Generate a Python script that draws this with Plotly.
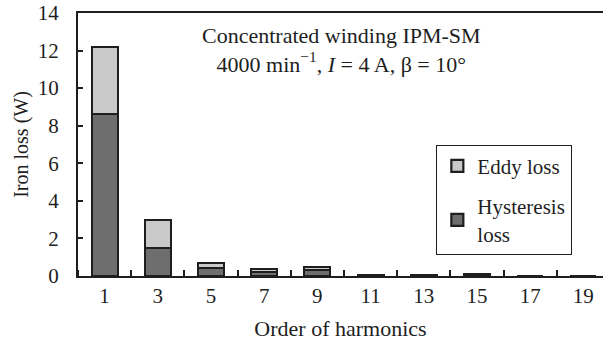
import plotly.graph_objects as go

# Harmonic order and iron-loss components (W)
orders = [1, 3, 5, 7, 9, 11, 13, 15, 17, 19]
hysteresis_loss = [8.6, 1.5, 0.42, 0.2, 0.3, 0.05, 0.05, 0.06, 0.0, 0.0]
eddy_loss = [3.6, 1.5, 0.26, 0.16, 0.2, 0.03, 0.03, 0.04, 0.0, 0.0]
y_ticks = [0, 2, 4, 6, 8, 10, 12, 14]

FONT = "Liberation Serif"
INK = "#1e1e1e"

fig = go.Figure()
fig.add_trace(go.Bar(
    x=orders, y=hysteresis_loss, name="Hysteresis<br>loss",
    legendgroup="h", legendrank=2,
    width=0.98, marker=dict(color="#6e6e6e", line=dict(color=INK, width=2.2)),
))
fig.add_trace(go.Bar(
    x=orders, y=eddy_loss, name="Eddy loss",
    legendgroup="e", legendrank=1,
    width=0.98, marker=dict(color="#c9c9c9", line=dict(color=INK, width=2.2)),
))

fig.add_annotation(
    x=9.92, y=13.55, xref="x", yref="y", showarrow=False,
    text="Concentrated winding IPM-SM<br>4000 min<sup>−1</sup>, <i>I</i> = 4 A, β = 10°",
    font=dict(family=FONT, size=22, color=INK), align="center", yanchor="top",
)

fig.update_layout(
    width=603, height=341,
    margin=dict(l=78, r=0, t=13, b=65),
    paper_bgcolor="white", plot_bgcolor="white",
    barmode="stack", bargap=0,
    font=dict(family=FONT, size=21, color=INK),
    showlegend=True,
    legend=dict(
        x=0.682, y=0.5, xanchor="left", yanchor="top",
        traceorder="grouped", tracegroupgap=10,
        bordercolor=INK, borderwidth=1.3, bgcolor="white",
        font=dict(family=FONT, size=21, color=INK),
        itemwidth=30,
    ),
    xaxis=dict(
        range=[0, 19.74], tickvals=orders, ticktext=[str(o) for o in orders],
        ticks="", showgrid=False, zeroline=False,
        showline=True, linecolor=INK, linewidth=2, mirror=True,
        minor=dict(ticks="inside", tick0=0, dtick=2, ticklen=6,
                   tickcolor=INK, tickwidth=1.5),
        title=dict(text="Order of harmonics", standoff=14,
                   font=dict(family=FONT, size=22, color=INK)),
        tickfont=dict(family=FONT, size=21, color=INK),
    ),
    yaxis=dict(
        range=[0, 14], tickvals=y_ticks, ticks="inside", ticklen=5,
        tickwidth=1.5, tickcolor=INK, showgrid=False, zeroline=False,
        showline=True, linecolor=INK, linewidth=2,
        ticklabelstandoff=13,
        title=dict(text="Iron loss (W)", standoff=4,
                   font=dict(family=FONT, size=20, color=INK)),
        tickfont=dict(family=FONT, size=21, color=INK),
    ),
)

fig.write_html("out.html")
